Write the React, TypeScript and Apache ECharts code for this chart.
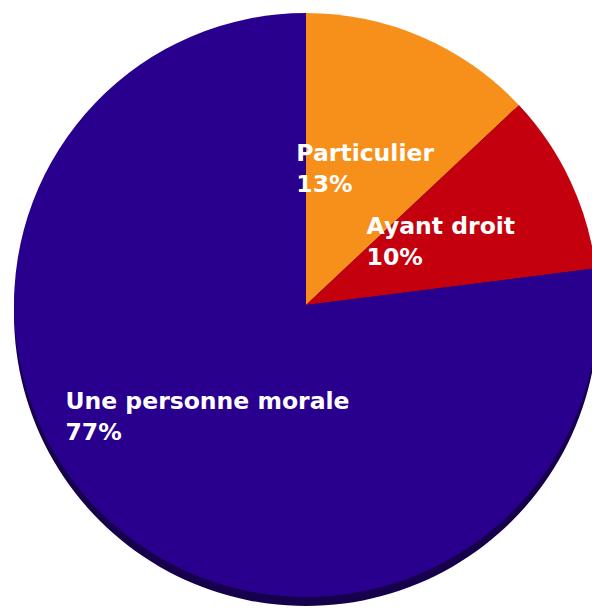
import React, { useEffect, useRef } from "react";
import * as echarts from "echarts";

const categories = ["Particulier", "Ayant droit", "Une personne morale"];
const values = [13, 10, 77];
const colors = ["#F7901A", "#C4000E", "#29008E"];

export default function App() {
  const ref = useRef<HTMLDivElement>(null);
  useEffect(() => {
    if (!ref.current) return;
    const chart = echarts.init(ref.current, undefined, { renderer: "svg" });
    const center = [306, 305];
    const radius = 292;
    chart.setOption({
      animation: false,
      backgroundColor: "#ffffff",
      series: [
        {
          type: "pie",
          silent: true,
          center: [center[0], center[1] + 9],
          radius: radius,
          label: { show: false },
          labelLine: { show: false },
          itemStyle: { color: "#16004c" },
          data: [{ value: 1, name: "shadow" }],
          z: 1,
        },
        {
          type: "pie",
          center: center,
          radius: radius,
          startAngle: 90,
          clockwise: true,
          z: 2,
          itemStyle: { borderWidth: 0 },
          label: {
            show: true,
            position: "inside",
            formatter: "{a|{b}}\n{a|{d}%}",
            color: "#ffffff",
            align: "center",
            rich: {
              a: {
                align: "left",
                color: "#ffffff",
                fontFamily: "DejaVu Sans",
                fontWeight: "bold",
                fontSize: 23.5,
                lineHeight: 31,
              },
            },
          },
          labelLine: { show: false },
          data: categories.map((name, i) => ({
            name,
            value: values[i],
            itemStyle: { color: colors[i] },
          })),
        },
      ],
    });
    return () => chart.dispose();
  }, []);
  return (
    <div
      ref={ref}
      style={{ position: "fixed", left: 0, top: 0, width: 592, height: 612 }}
    />
  );
}
